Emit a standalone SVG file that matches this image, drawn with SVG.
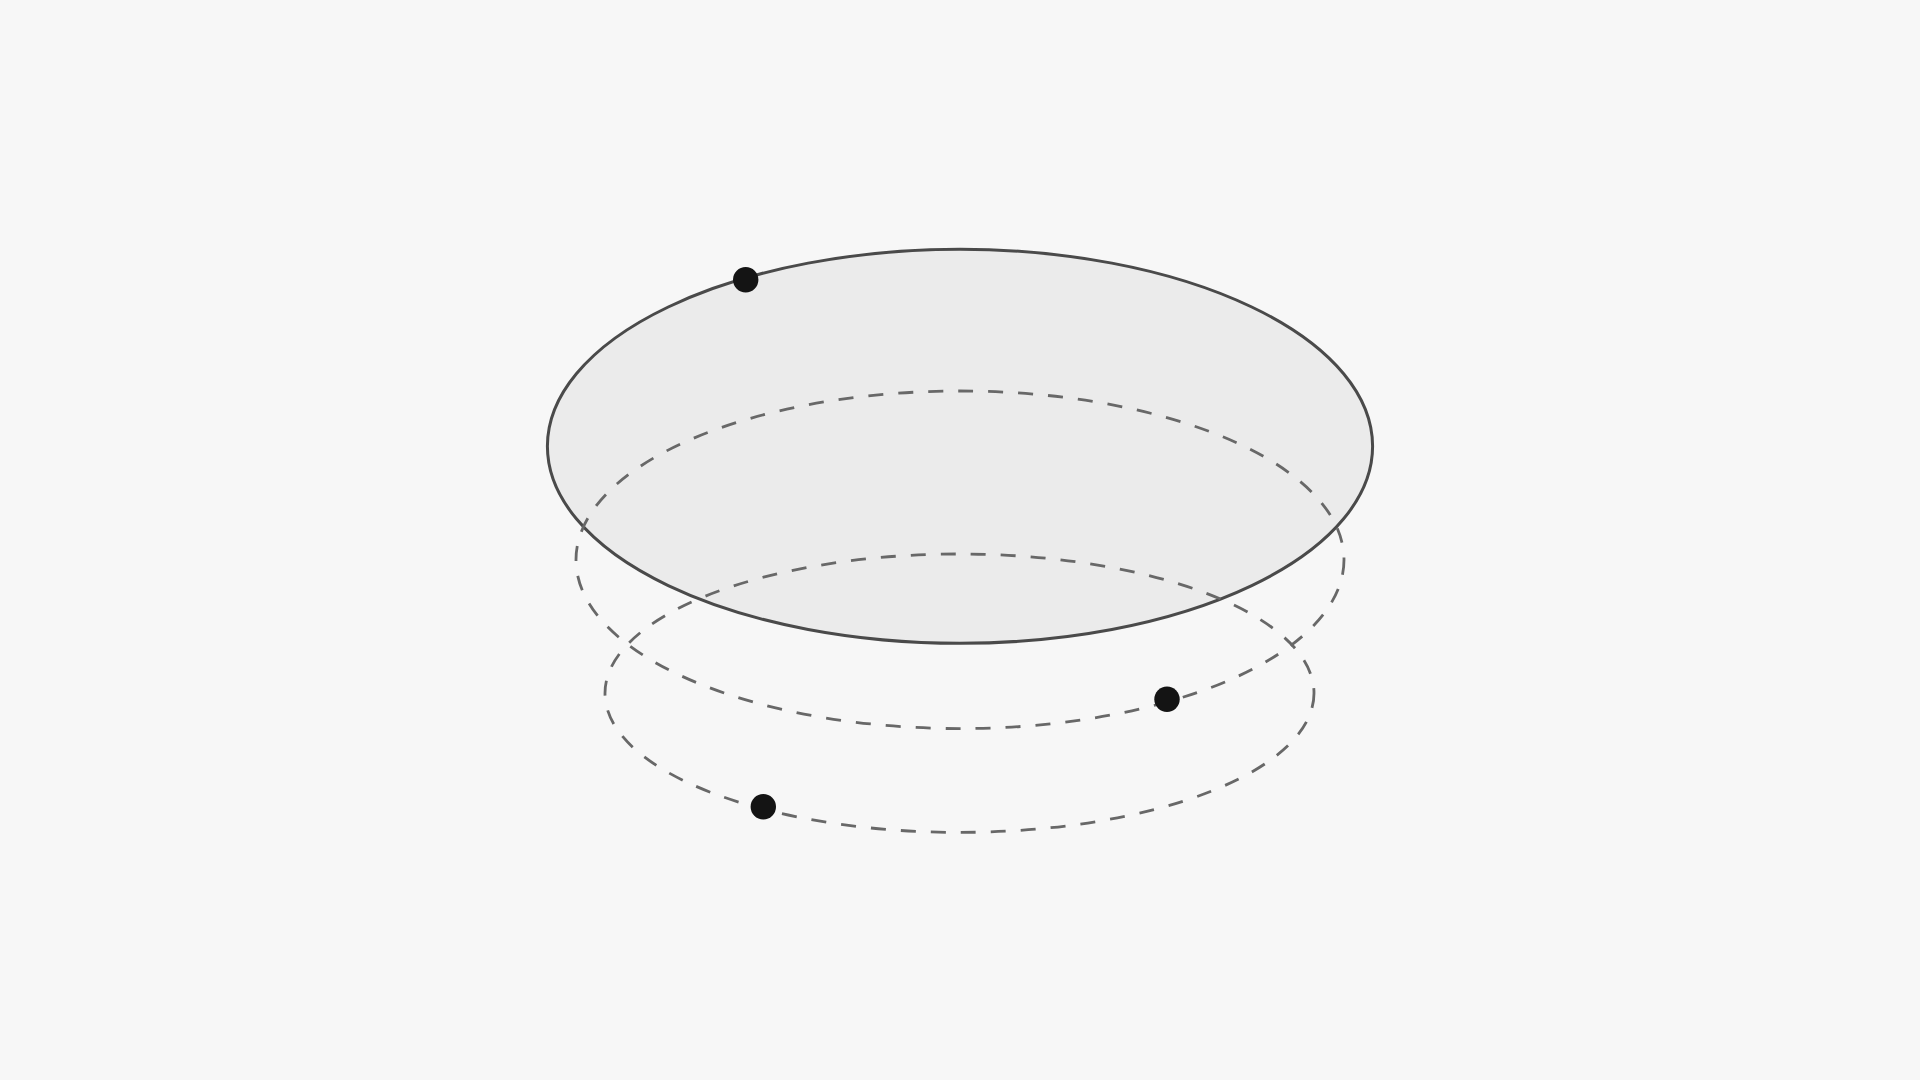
<svg xmlns="http://www.w3.org/2000/svg" width="1920" height="1080" viewBox="0 0 1920 1080">
  <style>
    .bg { fill: #f7f7f7; }
    .disc { fill: #ebebeb; stroke: #4a4a4a; stroke-width: 3; }
    .orbit { fill: none; stroke: #686868; stroke-width: 2.8; stroke-dasharray: 15 15; }
    .dot { fill: #141414; }
  </style>
  <rect class="bg" x="0" y="0" width="1920" height="1080"/>
  <g id="disc">
    <ellipse class="disc" cx="960" cy="446.3" rx="412.6" ry="197"/>
  </g>
  <g id="orbit-upper">
    <ellipse class="orbit" cx="960" cy="559.8" rx="384" ry="168.8"/>
  </g>
  <g id="orbit-lower">
    <ellipse class="orbit" cx="959.5" cy="693.2" rx="354.5" ry="139.2"/>
  </g>
  <g id="dot-top">
    <circle class="dot" cx="745.7" cy="279.7" r="12.7"/>
  </g>
  <g id="dot-right">
    <circle class="dot" cx="1167" cy="699.3" r="12.7"/>
  </g>
  <g id="dot-bottom">
    <circle class="dot" cx="763.3" cy="806.7" r="12.7"/>
  </g>
</svg>
